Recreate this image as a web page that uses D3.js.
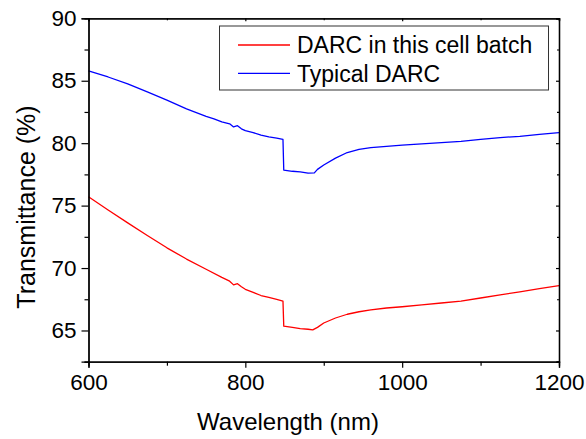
<!DOCTYPE html>
<html>
<head>
<meta charset="utf-8">
<script src="https://cdn.jsdelivr.net/npm/d3@7"></script>
<style>
  html, body { margin: 0; padding: 0; background: #fff; }
  svg { display: block; font-family: "Liberation Sans", Arial, sans-serif; }
</style>
</head>
<body>
<svg id="chart" width="586" height="439"></svg>
<script>
// Transmittance spectra (wavelength in nm, transmittance in %)
const wavelengthBatch = [600, 625, 650, 675, 700, 725, 750, 770, 780, 785, 790, 795, 800, 810, 820, 830, 840, 848,
  849, 860, 870, 880, 886, 892, 900, 915, 930, 945, 960, 980, 1000, 1025, 1050, 1075, 1100, 1125, 1150, 1175, 1200];
const batchDARC = [75.71, 74.65, 73.62, 72.6, 71.62, 70.72, 69.9, 69.25, 68.95, 68.65, 68.75, 68.5, 68.3, 68.05, 67.8, 67.65, 67.5, 67.35,
  65.35, 65.25, 65.15, 65.1, 65.05, 65.25, 65.6, 66.0, 66.3, 66.5, 66.65, 66.8, 66.9, 67.05, 67.2, 67.35, 67.6, 67.85, 68.1, 68.35, 68.6];

const wavelengthTypical = [600, 625, 650, 675, 700, 725, 750, 760, 770, 780, 785, 790, 795, 800, 810, 820, 830, 840, 848,
  849, 860, 870, 880, 888, 892, 900, 915, 930, 945, 960, 980, 1000, 1025, 1050, 1075, 1100, 1125, 1150, 1175, 1200];
const typicalDARC = [85.78, 85.3, 84.75, 84.1, 83.45, 82.75, 82.15, 81.95, 81.7, 81.55, 81.3, 81.4, 81.15, 81.0, 80.85, 80.65, 80.5, 80.4, 80.3,
  77.85, 77.75, 77.7, 77.6, 77.62, 77.9, 78.25, 78.8, 79.25, 79.5, 79.65, 79.75, 79.85, 79.95, 80.05, 80.15, 80.3, 80.45, 80.55, 80.7, 80.85];

const seriesNames = ["DARC in this cell batch", "Typical DARC"];
const seriesColors = ["#ff0000", "#0000ff"];

const xTicks = [600, 800, 1000, 1200];
const xMinorTicks = [700, 900, 1100];
const yTicks = [65, 70, 75, 80, 85, 90];
const yMinorTicks = [62.5, 67.5, 72.5, 77.5, 82.5, 87.5];

const svg = d3.select("#chart");
const plot = { left: 88.5, right: 559, top: 18.3, bottom: 361.7 };

const x = d3.scaleLinear().domain([600, 1200]).range([plot.left, plot.right]);
const y = d3.scaleLinear().domain([62.5, 90]).range([plot.bottom, plot.top]);

const tickFont = 22.5;

// curves
const line = d3.line().x(d => x(d[0])).y(d => y(d[1]));
const series = [
  d3.zip(wavelengthBatch, batchDARC),
  d3.zip(wavelengthTypical, typicalDARC)
];
series.forEach((s, i) => {
  svg.append("path")
    .datum(s)
    .attr("d", line)
    .attr("fill", "none")
    .attr("stroke", seriesColors[i])
    .attr("stroke-width", 1.3)
    .attr("stroke-linejoin", "round");
});

// bottom axis
const xAxis = svg.append("g").attr("transform", `translate(0,${plot.bottom})`)
  .call(d3.axisBottom(x).tickValues(xTicks).tickSize(6).tickPadding(6).tickFormat(d3.format("d")));
xAxis.append("g").call(d3.axisBottom(x).tickValues(xMinorTicks).tickSize(4).tickFormat(""));

// left axis
const yAxis = svg.append("g").attr("transform", `translate(${plot.left},0)`)
  .call(d3.axisLeft(y).tickValues(yTicks).tickSize(7).tickPadding(5).tickFormat(d3.format("d")));
yAxis.append("g").call(d3.axisLeft(y).tickValues(yMinorTicks).tickSize(4).tickFormat(""));

// top and right axes with small inward ticks
const xTop = svg.append("g").attr("transform", `translate(0,${plot.top})`)
  .call(d3.axisBottom(x).tickValues(xTicks).tickSize(3).tickFormat(""));
xTop.append("g").call(d3.axisBottom(x).tickValues(xMinorTicks).tickSize(2).tickFormat(""));
const yRight = svg.append("g").attr("transform", `translate(${plot.right},0)`)
  .call(d3.axisLeft(y).tickValues(yTicks).tickSize(3).tickFormat(""));
yRight.append("g").call(d3.axisLeft(y).tickValues(yMinorTicks).tickSize(2).tickFormat(""));

svg.selectAll(".domain").attr("stroke", "#000").attr("stroke-width", 1.3);
svg.selectAll(".tick line").attr("stroke", "#000").attr("stroke-width", 1.2);
svg.selectAll(".tick text")
  .attr("font-family", "Liberation Sans, Arial, sans-serif")
  .attr("font-size", tickFont)
  .attr("fill", "#000");

// axis titles
svg.append("text")
  .attr("x", 288).attr("y", 430)
  .attr("text-anchor", "middle")
  .attr("font-size", 24)
  .text("Wavelength (nm)");

svg.append("text")
  .attr("transform", "translate(35,207) rotate(-90)")
  .attr("text-anchor", "middle")
  .attr("font-size", 25)
  .text("Transmittance (%)");

// legend
const legend = svg.append("g");
legend.append("rect")
  .attr("x", 219.5).attr("y", 26)
  .attr("width", 329).attr("height", 64)
  .attr("fill", "#fff")
  .attr("stroke", "#333")
  .attr("stroke-width", 1);
seriesNames.forEach((name, i) => {
  const yy = 45 + i * 28.3;
  legend.append("line")
    .attr("x1", 238).attr("x2", 290)
    .attr("y1", yy).attr("y2", yy)
    .attr("stroke", seriesColors[i])
    .attr("stroke-width", 1.3);
  legend.append("text")
    .attr("x", 297).attr("y", yy + 8.3)
    .attr("font-size", 23)
    .text(name);
});
</script>
</body>
</html>
